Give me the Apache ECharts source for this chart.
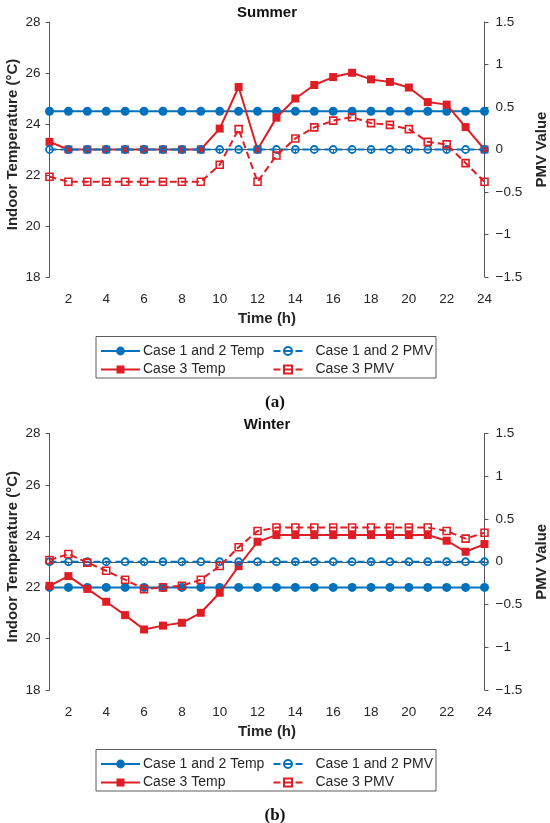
<!DOCTYPE html>
<html><head><meta charset="utf-8">
<script src="https://cdn.jsdelivr.net/npm/echarts@6/dist/echarts.min.js"></script>
<style>html,body{margin:0;padding:0;background:#fff}#c{width:550px;height:823px}</style>
</head><body><div id="c"></div>
<script>
const hours = ['1','2','3','4','5','6','7','8','9','10','11','12','13','14','15','16','17','18','19','20','21','22','23','24'];
const tempTicks = [18, 20, 22, 24, 26, 28];
const pmvTicks = [-1.5, -1, -0.5, 0, 0.5, 1, 1.5];
const legendNames = ['Case 1 and 2 Temp', 'Case 3 Temp', 'Case 1 and 2 PMV', 'Case 3 PMV'];

const summerCase12Temp = [24.5,24.5,24.5,24.5,24.5,24.5,24.5,24.5,24.5,24.5,24.5,24.5,24.5,24.5,24.5,24.5,24.5,24.5,24.5,24.5,24.5,24.5,24.5,24.5];
const summerCase3Temp = [23.3,23.0,23.0,23.0,23.0,23.0,23.0,23.0,23.0,23.82,25.45,23.0,24.25,25.0,25.53,25.84,26.01,25.75,25.65,25.43,24.86,24.76,23.88,23.0];
const summerCase12PMV = [0,0,0,0,0,0,0,0,0,0,0,0,0,0,0,0,0,0,0,0,0,0,0,0];
const summerCase3PMV = [-0.32,-0.38,-0.38,-0.38,-0.38,-0.38,-0.38,-0.38,-0.38,-0.18,0.24,-0.38,-0.07,0.13,0.26,0.34,0.38,0.31,0.29,0.24,0.09,0.06,-0.16,-0.38];

const winterCase12Temp = [22,22,22,22,22,22,22,22,22,22,22,22,22,22,22,22,22,22,22,22,22,22,22,22];
const winterCase3Temp = [22.06,22.44,21.94,21.44,20.92,20.36,20.51,20.62,21.01,21.79,22.83,23.78,24.04,24.04,24.04,24.04,24.04,24.04,24.04,24.04,24.04,23.82,23.39,23.69];
const winterCase12PMV = [0,0,0,0,0,0,0,0,0,0,0,0,0,0,0,0,0,0,0,0,0,0,0,0];
const winterCase3PMV = [0.02,0.09,-0.01,-0.105,-0.21,-0.32,-0.30,-0.28,-0.21,-0.05,0.17,0.36,0.40,0.40,0.40,0.40,0.40,0.40,0.40,0.40,0.40,0.36,0.27,0.34];

const BLUE = '#0072BD', RED = '#DE1E24';
const AX = '#555555', TXT = '#262626';
const FONT = 'Liberation Sans, Arial, sans-serif';

const grids = [
  {left: 49.5, right: 65.5, top: 22, height: 255, containLabel: false, outerBoundsMode: 'none'},
  {left: 49.5, right: 65.5, top: 433.5, height: 256.5, containLabel: false, outerBoundsMode: 'none'}
];

const nameStyle = {fontFamily: FONT, fontWeight: 'bold', fontSize: 15, color: TXT};

function xAxis(gi) {
  return {
    type: 'category', gridIndex: gi, data: hours, boundaryGap: false,
    name: 'Time (h)', nameLocation: 'middle', nameGap: 34, nameMoveOverlap: false, nameTextStyle: nameStyle,
    axisLine: {lineStyle: {color: AX, width: 1}},
    axisTick: {show: true, length: 4, inside: false, interval: (i) => i % 2 === 1, lineStyle: {color: AX}},
    axisLabel: {interval: (i) => i % 2 === 1, margin: 15, fontFamily: FONT, fontSize: 13.5, color: TXT},
    splitLine: {show: false}
  };
}
function tempAxis(gi) {
  return {
    type: 'value', gridIndex: gi, position: 'left', min: tempTicks[0], max: tempTicks[tempTicks.length-1], interval: 2,
    name: 'Indoor Temperature (°C)', nameLocation: 'middle', nameGap: 29, nameRotate: 90, nameMoveOverlap: false,
    nameTextStyle: Object.assign({}, nameStyle, {padding: [0, 0, 0, 10]}),
    axisLine: {show: true, lineStyle: {color: AX, width: 1}},
    axisTick: {show: true, length: 4, lineStyle: {color: AX}},
    axisLabel: {margin: 9, fontFamily: FONT, fontSize: 13.5, color: TXT},
    splitLine: {show: false}
  };
}
function pmvAxis(gi) {
  return {
    type: 'value', gridIndex: gi, position: 'right', min: pmvTicks[0], max: pmvTicks[pmvTicks.length-1], interval: 0.5,
    name: 'PMV Value', nameLocation: 'middle', nameGap: 50, nameRotate: 90, nameMoveOverlap: false,
    nameTextStyle: nameStyle,
    axisLine: {show: true, lineStyle: {color: AX, width: 1}},
    axisTick: {show: true, length: 4, lineStyle: {color: AX}},
    axisLabel: {margin: 11, fontFamily: FONT, fontSize: 13.5, color: TXT,
      formatter: (v) => String(v).replace('-', '\u2212')},
    splitLine: {show: false}
  };
}

function seriesFor(gi, c12t, c3t, c12p, c3p) {
  const xi = gi, ty = gi * 2, py = gi * 2 + 1;
  return [
    {name: legendNames[0], type: 'line', xAxisIndex: xi, yAxisIndex: ty, data: c12t,
      symbol: 'circle', symbolSize: 9, lineStyle: {color: BLUE, width: 2},
      itemStyle: {color: BLUE}, z: 2, animation: false},
    {name: legendNames[1], type: 'line', xAxisIndex: xi, yAxisIndex: ty, data: c3t,
      symbol: 'rect', symbolSize: 8, lineStyle: {color: RED, width: 2},
      itemStyle: {color: RED}, z: 3, animation: false},
    {name: legendNames[2], type: 'line', xAxisIndex: xi, yAxisIndex: py, data: c12p,
      symbol: 'circle', symbolSize: 7, lineStyle: {color: BLUE, width: 2, type: [7, 4]},
      itemStyle: {color: 'rgba(255,255,255,0)', borderColor: BLUE, borderWidth: 1.8}, z: 4, animation: false},
    {name: legendNames[3], type: 'line', xAxisIndex: xi, yAxisIndex: py, data: c3p,
      symbol: 'rect', symbolSize: 7, lineStyle: {color: RED, width: 2, type: [7, 4]},
      itemStyle: {color: 'rgba(255,255,255,0)', borderColor: RED, borderWidth: 1.6}, z: 5, animation: false}
  ];
}

function legendsFor(top) {
  const t1 = top + 7.5, t2 = top + 26;
  const base = {orient: 'horizontal', padding: 0, selectedMode: false,
    textStyle: {fontFamily: FONT, fontSize: 14, color: TXT}};
  return [
    Object.assign({}, base, {data: [legendNames[0]], left: 100, top: t1, itemWidth: 39, itemHeight: 11, itemGap: 0,
      textStyle: Object.assign({}, base.textStyle, {padding: [0, 0, 0, -2]})}),
    Object.assign({}, base, {data: [legendNames[1]], left: 100, top: t2, itemWidth: 39, itemHeight: 10, itemGap: 0,
      textStyle: Object.assign({}, base.textStyle, {padding: [0, 0, 0, -2]})}),
    Object.assign({}, base, {data: [legendNames[2]], left: 272.5, top: t1, itemWidth: 29, itemHeight: 10, itemGap: 0,
      textStyle: Object.assign({}, base.textStyle, {padding: [0, 0, 0, 8]})}),
    Object.assign({}, base, {data: [legendNames[3]], left: 272.5, top: t2, itemWidth: 29, itemHeight: 10, itemGap: 0,
      textStyle: Object.assign({}, base.textStyle, {padding: [0, 0, 0, 8]})})
  ];
}

const capStyle = {rich: {
  n: {fontFamily: 'Liberation Serif, serif', fontSize: 17, color: '#111'},
  b: {fontFamily: 'Liberation Serif, serif', fontSize: 17, fontWeight: 'bold', color: '#111'}}};
const titleStyle = {fontFamily: FONT, fontWeight: 'bold', fontSize: 15, color: '#111'};

const option = {
  backgroundColor: '#fff',
  animation: false,
  title: [
    {text: 'Summer', left: 267, top: 5, padding: 0, textAlign: 'center', textStyle: titleStyle},
    {text: 'Winter', left: 267, top: 417, padding: 0, textAlign: 'center', textStyle: titleStyle},
    {text: '{n|(}{b|a}{n|)}', left: 275, top: 394.5, padding: 0, textAlign: 'center', textStyle: capStyle},
    {text: '{n|(}{b|b}{n|)}', left: 275, top: 807, padding: 0, textAlign: 'center', textStyle: capStyle}
  ],
  graphic: [
    {type: 'rect', shape: {x: 96, y: 336.5, width: 340, height: 41.5}, style: {fill: '#fff', stroke: '#333', lineWidth: 0.8}, z: -1},
    {type: 'rect', shape: {x: 96, y: 749.5, width: 340, height: 41.5}, style: {fill: '#fff', stroke: '#333', lineWidth: 0.8}, z: -1}
  ],
  legend: legendsFor(336.5).concat(legendsFor(749.5)),
  grid: grids,
  xAxis: [xAxis(0), xAxis(1)],
  yAxis: [tempAxis(0), pmvAxis(0), tempAxis(1), pmvAxis(1)],
  series: seriesFor(0, summerCase12Temp, summerCase3Temp, summerCase12PMV, summerCase3PMV)
    .concat(seriesFor(1, winterCase12Temp, winterCase3Temp, winterCase12PMV, winterCase3PMV))
};

const chart = echarts.init(document.getElementById('c'), null, {renderer: 'canvas'});
chart.setOption(option);
</script>
</body></html>
